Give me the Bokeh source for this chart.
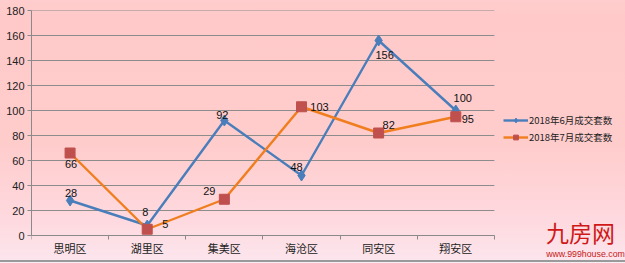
from bokeh.plotting import figure
from bokeh.models import ColumnDataSource, FixedTicker, Range1d, Legend, LegendItem, Label
from bokeh.core.properties import value
from bokeh.embed import file_html
from bokeh.resources import INLINE

categories = ["思明区", "湖里区", "集美区", "海沧区", "同安区", "翔安区"]
june = [28, 8, 92, 48, 156, 100]
july = [66, 5, 29, 103, 82, 95]
series_names = ["2018年6月成交套数", "2018年7月成交套数"]
y_ticks = [0, 20, 40, 60, 80, 100, 120, 140, 160, 180]

# label offsets (screen px, +y is down) for each point label
june_dx = [1, -2, -2, -5, 6, 7]
june_dy = [-8, -14, -6, -9, 14, -13]
july_dx = [1, 18, -15, 18, 10, 12]
july_dy = [11, -5, -8, 0, -8, 2]

n = len(categories)
p = figure(width=625, height=263, output_backend="svg", toolbar_location=None,
           x_range=Range1d(0, 7.7), y_range=Range1d(-22.4, 180),
           min_border_left=31, min_border_right=0, min_border_top=10, min_border_bottom=0)
p.background_fill_alpha = 0
p.border_fill_alpha = 0
p.outline_line_color = None
p.styles = {
    "background": "linear-gradient(to bottom, #FFCDCD 0%, #FFC9C9 6%, #FFCCCC 55%, #FEDAE0 85%, #FCE6EE 100%)",
    "box-shadow": "inset 0 -1px 0 #F6EEF2, inset 0 -3px 0 #9A9A9A",
}

xs = [i + 0.5 for i in range(n)]

# horizontal gridlines (only across the category area)
p.segment(x0=[0] * len(y_ticks), x1=[n] * len(y_ticks), y0=y_ticks, y1=y_ticks,
          line_color="#8C8C8C", line_width=1)

# axes
p.yaxis.ticker = FixedTicker(ticks=y_ticks)
p.yaxis.bounds = (0, 180)
p.yaxis.axis_line_color = "#8A8A8A"
p.yaxis.major_tick_line_color = "#8A8A8A"
p.yaxis.major_tick_out = 4
p.yaxis.major_tick_in = 0
p.yaxis.minor_tick_line_color = None
p.yaxis.major_label_text_font = "Liberation Sans"
p.yaxis.major_label_text_font_size = "11px"
p.yaxis.major_label_text_color = "#222222"
p.yaxis.major_label_standoff = 3

p.xaxis.fixed_location = 0
p.xaxis.ticker = FixedTicker(ticks=xs, minor_ticks=list(range(n + 1)))
p.xaxis.bounds = (0, n)
p.xaxis.major_label_overrides = {x: c for x, c in zip(xs, categories)}
p.xaxis.axis_line_color = "#8A8A8A"
p.xaxis.major_tick_line_color = None
p.xaxis.major_tick_out = 0
p.xaxis.minor_tick_line_color = "#8A8A8A"
p.xaxis.minor_tick_out = 4
p.xaxis.minor_tick_in = 0
p.xaxis.major_label_text_font = "Noto Sans CJK SC"
p.xaxis.major_label_text_font_size = "11px"
p.xaxis.major_label_text_color = "#222222"
p.xaxis.major_label_standoff = 0

p.xgrid.grid_line_color = None
p.ygrid.grid_line_color = None

src1 = ColumnDataSource(dict(x=xs, y=june, t=[str(v) for v in june], dx=june_dx, dy=june_dy))
src2 = ColumnDataSource(dict(x=xs, y=july, t=[str(v) for v in july], dx=july_dx, dy=july_dy))

l1 = p.line("x", "y", source=src1, line_color="#4A7EBB", line_width=2.4)
m1 = p.scatter("x", "y", source=src1, marker="diamond", size=11, fill_color="#4A7EBB", line_color="#4A7EBB")
l2 = p.line("x", "y", source=src2, line_color="#F07E1E", line_width=2.4)
m2 = p.scatter("x", "y", source=src2, marker="square", size=10, fill_color="#C0504D", line_color="#C0504D")

for s in (src1, src2):
    p.text("x", "y", text="t", source=s, x_offset="dx", y_offset="dy",
           text_align="center", text_baseline="middle",
           text_font=value("Liberation Sans"), text_font_size="11px", text_color="#111111")

legend = Legend(items=[LegendItem(label=series_names[0], renderers=[l1, m1]),
                       LegendItem(label=series_names[1], renderers=[l2, m2])],
                location=(472, 119), background_fill_alpha=0, border_line_color=None,
                label_text_font="Noto Sans CJK SC", label_text_font_size="9.5px",
                label_text_color="#222222", glyph_width=25, glyph_height=12,
                spacing=3, padding=0, margin=0, label_standoff=1)
p.add_layout(legend)

# watermark (screen units relative to the plot frame's bottom-left)
p.add_layout(Label(x=549, y=32, x_units="screen", y_units="screen", text="九房网",
                   text_font="Noto Sans CJK SC", text_font_size="23px", text_color="#D01818",
                   text_align="center", text_baseline="middle"))
p.add_layout(Label(x=554, y=10, x_units="screen", y_units="screen", text="www.999house.com",
                   text_font="Liberation Sans", text_font_size="8.8px", text_color="#C81818",
                   text_align="center", text_baseline="middle"))

open("out.html", "w").write(file_html(p, INLINE))
